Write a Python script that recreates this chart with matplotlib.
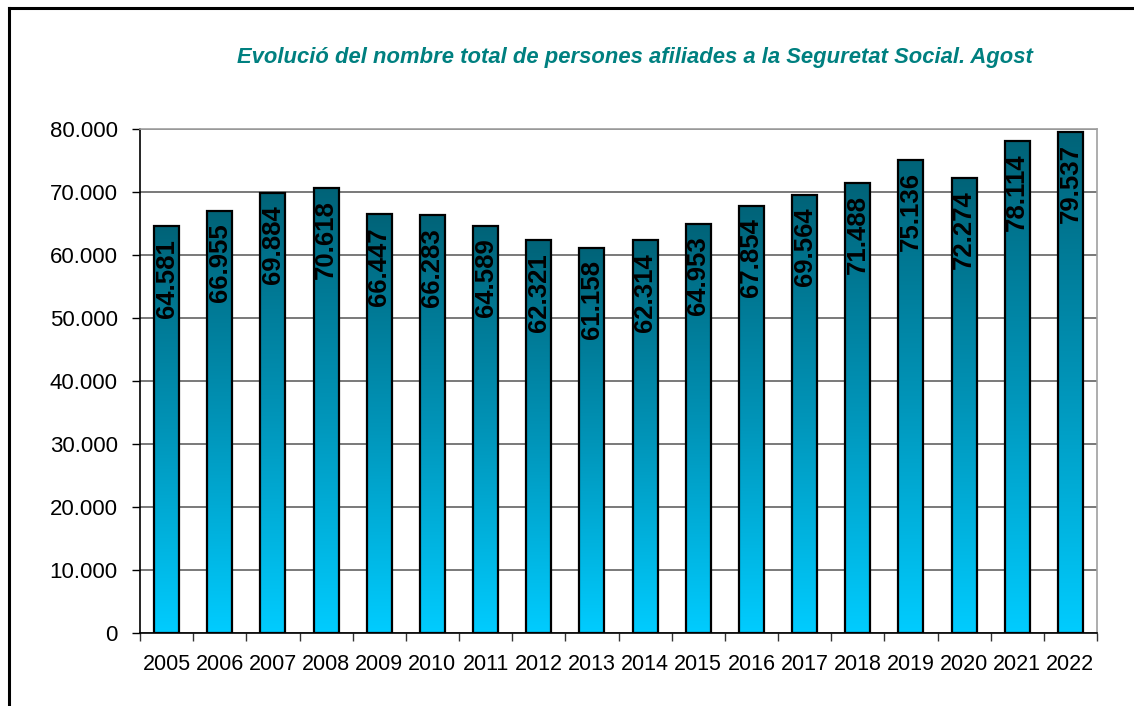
import numpy as np
import matplotlib
matplotlib.use('Agg')
import matplotlib.pyplot as plt
from matplotlib.colors import LinearSegmentedColormap
from matplotlib.lines import Line2D

plt.rcParams['font.family'] = ['Liberation Sans', 'DejaVu Sans']

years = ['2005', '2006', '2007', '2008', '2009', '2010', '2011', '2012', '2013',
         '2014', '2015', '2016', '2017', '2018', '2019', '2020', '2021', '2022']
afiliats = [64581, 66955, 69884, 70618, 66447, 66283, 64589, 62321, 61158,
            62314, 64953, 67854, 69564, 71488, 75136, 72274, 78114, 79537]
yticks = [0, 10000, 20000, 30000, 40000, 50000, 60000, 70000, 80000]

def fmt(v):
    return f'{v:,}'.replace(',', '.')

fig = plt.figure(figsize=(11.34, 7.06), dpi=100)
ax = fig.add_axes([140/1134, 1-633/706, (1097-140)/1134, (633-129)/706])

cmap = LinearSegmentedColormap.from_list('bar', ['#00ccff', '#0094b8', '#006378'])
grad = np.linspace(0, 1, 256).reshape(-1, 1)
w = 0.47
x = np.arange(len(years))

for xi, v in zip(x, afiliats):
    ax.imshow(grad, cmap=cmap, origin='lower', aspect='auto',
              extent=[xi - w/2, xi + w/2, 0, v], zorder=2)
    ax.bar(xi, v, width=w, facecolor='none', edgecolor='black', linewidth=1.6, zorder=3)
    ax.annotate(fmt(v), (xi, v), xytext=(0, -9), textcoords='offset points',
                rotation=90, ha='center', va='top', fontsize=18.5, fontweight='bold',
                color='black', zorder=4)

ax.set_xlim(-0.5, len(years) - 0.5)
ax.set_ylim(0, 80000)
ax.set_yticks(yticks)
ax.set_yticklabels([fmt(t) for t in yticks], fontsize=16)
ax.yaxis.grid(True, color='#555555', linewidth=1.1, zorder=0)
ax.set_axisbelow(True)

ax.set_xticks(np.arange(-0.5, len(years)))
ax.set_xticklabels([])
ax.set_xticks(x, minor=True)
ax.set_xticklabels(years, minor=True, fontsize=15.5)
ax.tick_params(axis='x', which='major', direction='out', length=6, width=1, color='#333333')
ax.tick_params(axis='x', which='minor', length=0, pad=15)
ax.tick_params(axis='y', direction='out', length=6, width=1, pad=10)

ax.spines['left'].set_color('black')
ax.spines['bottom'].set_color('black')
ax.spines['top'].set_color('#a0a0a0')
ax.spines['right'].set_color('#a0a0a0')
for s in ax.spines.values():
    s.set_linewidth(1.2)

fig.text(0.56, 1-58/706, 'Evolució del nombre total de persones afiliades a la Seguretat Social. Agost',
         ha='center', va='center', fontsize=15.8, fontweight='bold', style='italic', color='#008080')

fig.add_artist(Line2D([9/1134, 9/1134], [0, 1-8/706], transform=fig.transFigure, color='black', linewidth=2.2))
fig.add_artist(Line2D([9/1134, 1], [1-8/706, 1-8/706], transform=fig.transFigure, color='black', linewidth=2.2))

fig.savefig('out.png', dpi=100)
